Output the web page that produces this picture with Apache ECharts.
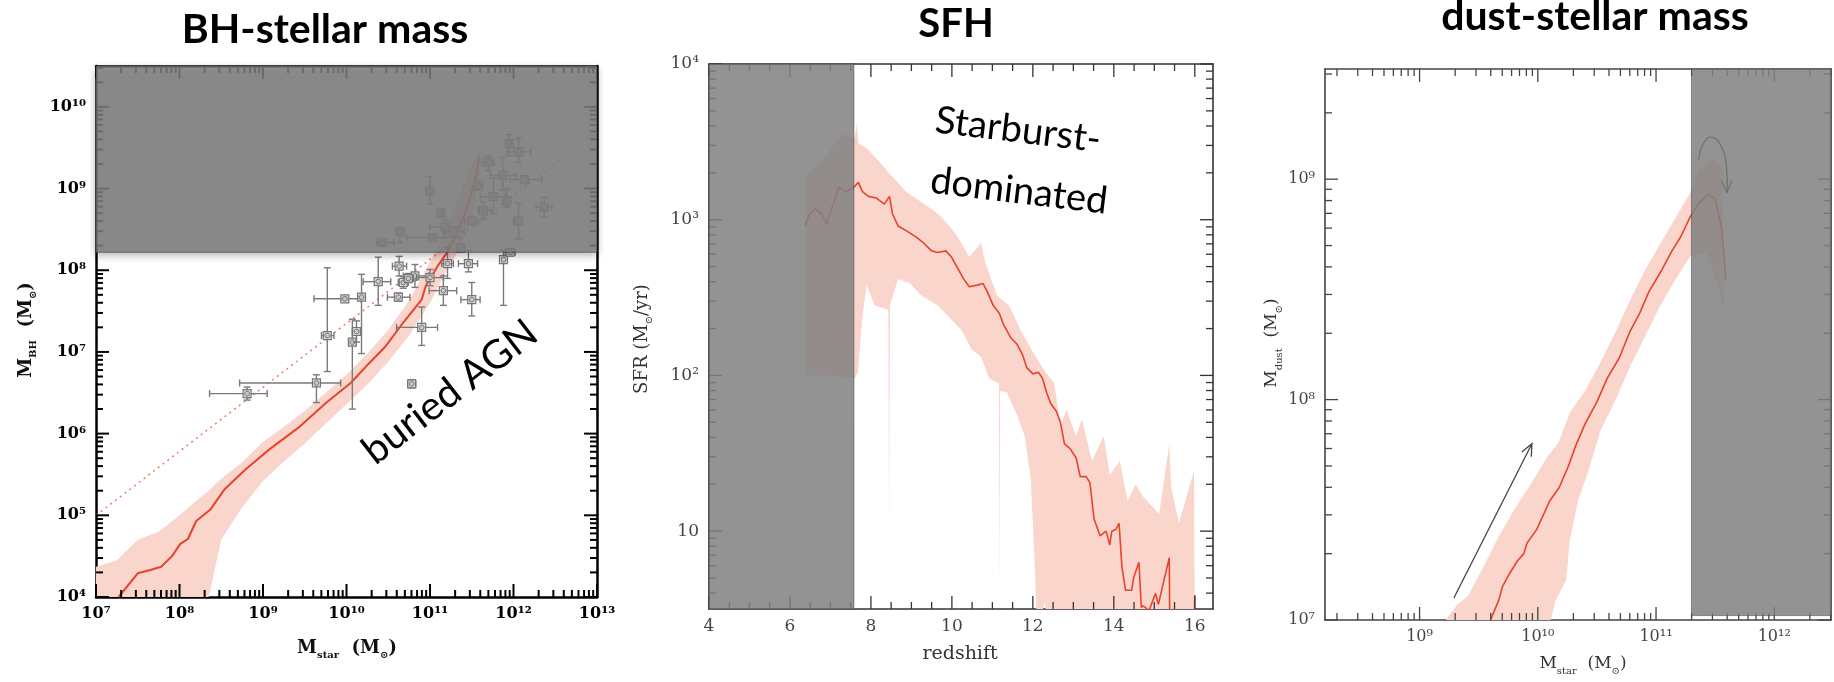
<!DOCTYPE html>
<html>
<head>
<meta charset="utf-8">
<title>BH-stellar mass / SFH / dust-stellar mass</title>
<script src="https://cdn.jsdelivr.net/npm/echarts@6.0.0/dist/echarts.min.js"></script>
<style>
  html, body { margin: 0; padding: 0; background: #fff; }
  #chart { width: 1834px; height: 682px; }
</style>
</head>
<body>
<div id="chart"></div>
<script>
// every value below is a log10 value

// --- panel 1: BH mass vs stellar mass ---
const bhXTicks = [7, 8, 9, 10, 11, 12, 13];
const bhXTickLabels = ['10⁷', '10⁸', '10⁹', '10¹⁰', '10¹¹', '10¹²', '10¹³'];
const bhYTicks = [4, 5, 6, 7, 8, 9, 10];
const bhYTickLabels = ['10⁴', '10⁵', '10⁶', '10⁷', '10⁸', '10⁹', '10¹⁰'];

const bhCurveMstar = [7.27, 7.5, 7.65, 7.78, 7.91, 8.01, 8.1, 8.2, 8.37, 8.54, 8.79, 9.08, 9.42, 9.76, 10.05, 10.26, 10.47, 10.68, 10.9, 10.95, 11.09, 11.2, 11.32, 11.45, 11.54, 11.59];
const bhCurveMbh = [4.0, 4.29, 4.33, 4.37, 4.5, 4.65, 4.71, 4.93, 5.07, 5.32, 5.56, 5.81, 6.07, 6.38, 6.62, 6.85, 7.07, 7.36, 7.64, 7.81, 8.05, 8.21, 8.45, 8.78, 9.1, 9.38];

const bhBandMstar = [7.0, 7.25, 7.5, 7.75, 8.0, 8.25, 8.35, 8.5, 8.75, 9.0, 9.25, 9.5, 9.75, 10.0, 10.25, 10.5, 10.75, 11.0, 11.2, 11.35, 11.5, 11.6];
const bhBandUpper = [4.37, 4.45, 4.70, 4.80, 5.00, 5.22, 5.30, 5.45, 5.65, 5.90, 6.08, 6.28, 6.50, 6.72, 6.98, 7.27, 7.63, 8.10, 8.50, 8.90, 9.30, 9.45];
const bhBandLower = [3.8, 3.8, 3.8, 3.8, 3.8, 3.8, 4.0, 4.7, 5.1, 5.42, 5.66, 5.88, 6.12, 6.36, 6.6, 6.88, 7.2, 7.6, 8.0, 8.25, 8.6, 9.2];

const bhRelMstar = [7.0, 13.0];
const bhRelMbh = [5.0, 9.7];

const bhObsMstar   = [8.81, 9.64, 9.77, 10.07, 10.12, 10.78, 10.90, 9.98, 10.18, 10.38, 10.62, 10.82, 10.68, 10.74, 11.00, 11.16, 11.50, 11.88, 10.63, 11.21, 11.46, 11.00, 11.13, 11.58, 11.70, 11.95, 12.06, 11.87, 12.13, 11.76, 11.92, 11.64, 11.50, 12.06, 12.37, 11.18, 11.03, 10.64, 10.43, 11.28, 11.37, 11.96];
const bhObsMbh     = [6.49, 6.62, 7.20, 7.12, 7.25, 6.61, 7.30, 7.65, 7.67, 7.86, 7.67, 7.93, 7.85, 7.90, 7.91, 7.75, 7.64, 8.13, 8.05, 8.08, 8.08, 8.97, 8.70, 9.03, 9.32, 9.55, 9.45, 9.16, 9.11, 8.90, 8.85, 8.73, 8.60, 8.60, 8.77, 8.53, 8.40, 8.47, 8.34, 8.47, 8.27, 8.22];
const bhObsMstarLo = [8.36, 8.72, 9.70, 10.03, 10.07, 10.74, 10.60, 9.61, 10.14, 10.20, 10.49, 10.68, 10.62, 10.70, 10.84, 10.99, 11.37, 11.86, 10.55, 11.14, 11.34, 10.98, 11.10, 11.55, 11.62, 11.92, 11.92, 11.72, 11.96, 11.60, 11.89, 11.58, 11.41, 12.00, 12.27, 11.00, 10.72, 10.61, 10.36, 11.16, 11.33, 11.90];
const bhObsMstarHi = [9.05, 9.93, 9.85, 10.11, 10.16, 10.83, 11.09, 10.17, 10.22, 10.53, 10.76, 10.98, 10.74, 10.80, 11.16, 11.32, 11.60, 11.90, 10.72, 11.28, 11.57, 11.02, 11.16, 11.61, 11.77, 11.98, 12.21, 12.03, 12.34, 11.90, 11.95, 11.73, 11.58, 12.10, 12.46, 11.37, 11.37, 10.67, 10.57, 11.41, 11.41, 12.02];
const bhObsMbhLo   = [6.41, 6.38, 6.76, 6.30, 7.12, 6.56, 7.08, 7.63, 6.98, 7.57, 7.62, 7.79, 7.78, 7.85, 7.81, 7.57, 7.44, 7.57, 7.93, 7.90, 7.98, 8.81, 8.65, 8.98, 9.22, 9.40, 9.32, 8.98, 9.08, 8.69, 8.77, 8.63, 8.55, 8.38, 8.65, 8.40, 8.38, 8.34, 8.30, 8.43, 8.22, 8.18];
const bhObsMbhHi   = [6.57, 6.72, 8.03, 7.40, 7.38, 6.66, 7.55, 7.67, 7.95, 8.16, 7.72, 8.07, 7.92, 7.96, 8.01, 7.93, 7.85, 8.24, 8.17, 8.28, 8.24, 9.15, 8.75, 9.08, 9.40, 9.66, 9.62, 9.38, 9.14, 9.13, 9.00, 8.84, 8.65, 8.82, 8.89, 8.62, 8.42, 8.51, 8.38, 8.51, 8.32, 8.26];

const bhShade = [7.0, 8.22, 13.0, 10.5]; // x0, y0, x1, y1

// --- panel 2: star formation history ---
const sfhXTicks = [4, 6, 8, 10, 12, 14, 16];
const sfhXTickLabels = ['4', '6', '8', '10', '12', '14', '16'];
const sfhYTicks = [1, 2, 3, 4];
const sfhYTickLabels = ['10', '10²', '10³', '10⁴'];

const sfhZ   = [6.38, 6.47, 6.62, 6.77, 6.91, 7.06, 7.21, 7.35, 7.55, 7.69, 7.79, 7.94, 8.13, 8.33, 8.46, 8.53, 8.67, 8.87, 9.11, 9.26, 9.50, 9.65, 9.85, 9.99, 10.14, 10.29, 10.43, 10.63, 10.77, 10.87, 11.02, 11.17, 11.27, 11.46, 11.61, 11.75, 11.85, 12.0, 12.14, 12.24, 12.34, 12.44, 12.58, 12.68, 12.78, 12.92, 13.07, 13.17, 13.32, 13.41, 13.51, 13.66, 13.81, 13.90, 13.95, 14.05, 14.13, 14.20, 14.29, 14.44, 14.49, 14.62, 14.68, 14.73, 14.87, 15.03, 15.10, 15.37, 15.38, 15.7, 15.99, 16.0];
const sfhSfr = [2.96, 3.03, 3.07, 3.04, 2.97, 3.10, 3.21, 3.18, 3.20, 3.24, 3.18, 3.15, 3.14, 3.10, 3.15, 3.04, 2.96, 2.93, 2.89, 2.86, 2.80, 2.79, 2.80, 2.76, 2.69, 2.62, 2.57, 2.58, 2.59, 2.54, 2.45, 2.40, 2.33, 2.24, 2.20, 2.13, 2.05, 2.01, 2.02, 1.98, 1.89, 1.82, 1.77, 1.70, 1.56, 1.53, 1.47, 1.35, 1.35, 1.31, 1.08, 0.97, 1.00, 0.91, 1.00, 1.01, 1.05, 0.77, 0.62, 0.62, 0.70, 0.80, 0.51, 0.52, 0.49, 0.60, 0.53, 0.83, 0.46, 0.3, 0.3, 0.59];

const sfhBandUpper = [[6.38, 2.96], [6.40, 3.29], [6.7, 3.35], [7.11, 3.49], [7.3, 3.55], [7.6, 3.52], [7.65, 3.62], [7.69, 3.49], [7.89, 3.46], [8.18, 3.38], [8.48, 3.29], [8.87, 3.18], [9.26, 3.11], [9.65, 3.04], [9.94, 2.96], [10.14, 2.89], [10.43, 2.76], [10.72, 2.85], [10.82, 2.73], [11.12, 2.51], [11.41, 2.45], [11.70, 2.29], [12.0, 2.15], [12.29, 2.03], [12.53, 1.95], [12.68, 1.67], [12.83, 1.78], [13.07, 1.61], [13.21, 1.72], [13.46, 1.45], [13.75, 1.61], [13.90, 1.36], [14.15, 1.45], [14.34, 1.19], [14.54, 1.30], [14.73, 1.22], [15.12, 1.11], [15.37, 1.56], [15.42, 1.28], [15.61, 1.05], [15.98, 1.39], [16.0, 0.3]];
const sfhBandLower = [[16.0, 0.3], [12.37, 0.3], [12.3, 0.55], [12.2, 0.45], [12.09, 0.45], [12.05, 0.77], [11.95, 1.33], [11.8, 1.61], [11.6, 1.75], [11.36, 1.89], [11.19, 1.9], [11.18, 0.6], [11.16, 1.95], [10.92, 1.98], [10.72, 2.12], [10.48, 2.17], [10.24, 2.29], [9.94, 2.37], [9.65, 2.45], [9.26, 2.51], [8.97, 2.59], [8.67, 2.62], [8.47, 2.45], [8.45, 1.0], [8.43, 2.42], [8.09, 2.45], [7.89, 2.58], [7.78, 2.35], [7.68, 2.02], [7.6, 1.98], [7.0, 2.0], [6.38, 2.0]];

const sfhShade = [4.0, 0.5, 7.58, 4.0];

// --- panel 3: dust mass vs stellar mass ---
const dustXTicks = [9, 10, 11, 12];
const dustXTickLabels = ['10⁹', '10¹⁰', '10¹¹', '10¹²'];
const dustYTicks = [7, 8, 9];
const dustYTickLabels = ['10⁷', '10⁸', '10⁹'];

const dustCurveMstar = [9.60, 9.67, 9.70, 9.76, 9.83, 9.88, 9.91, 9.99, 10.05, 10.10, 10.18, 10.26, 10.32, 10.40, 10.50, 10.59, 10.69, 10.78, 10.86, 10.94, 11.04, 11.13, 11.21, 11.29, 11.36, 11.44, 11.50, 11.55, 11.58, 11.59];
const dustCurveMdust = [7.0, 7.09, 7.15, 7.21, 7.27, 7.30, 7.35, 7.41, 7.48, 7.54, 7.60, 7.70, 7.79, 7.89, 7.99, 8.10, 8.19, 8.31, 8.39, 8.49, 8.58, 8.67, 8.74, 8.83, 8.89, 8.93, 8.91, 8.79, 8.63, 8.54];

const dustBandUpper = [[9.22, 7.0], [9.32, 7.07], [9.41, 7.11], [9.54, 7.24], [9.67, 7.38], [9.80, 7.50], [9.92, 7.60], [10.08, 7.74], [10.18, 7.81], [10.27, 7.94], [10.40, 8.04], [10.53, 8.17], [10.66, 8.31], [10.78, 8.45], [10.91, 8.59], [11.04, 8.71], [11.17, 8.83], [11.29, 8.94], [11.36, 9.04], [11.48, 9.09], [11.56, 9.06]];
const dustBandLower = [[11.60, 7.65], [11.58, 8.4], [11.52, 8.53], [11.42, 8.67], [11.29, 8.65], [11.17, 8.55], [11.04, 8.43], [10.91, 8.29], [10.78, 8.15], [10.66, 8.0], [10.53, 7.86], [10.43, 7.68], [10.34, 7.54], [10.27, 7.36], [10.24, 7.18], [10.21, 7.15], [10.15, 7.09], [10.11, 7.0]];

const dustArrowMstar = [9.29, 9.95];
const dustArrowMdust = [7.10, 7.80];
const dustLoopMstar = [11.36, 11.41, 11.48, 11.55, 11.595, 11.60];
const dustLoopMdust = [9.09, 9.17, 9.19, 9.15, 9.06, 8.94];

const dustShade = [11.3, 7.02, 12.48, 9.5];

// ---------------------------------------------------------------

const RED = '#e8432d';
const BAND = '#f9d5cb';
const SHADE = 'rgba(128,128,128,0.85)';
const SERIF = 'DejaVu Serif';

const pairs = (xs, ys) => xs.map((x, i) => [x, ys[i]]);

function tickLabel(ticks, labels) {
  return v => {
    const i = ticks.findIndex(t => Math.abs(t - v) < 1e-6);
    return i < 0 ? '' : labels[i];
  };
}

function minorLog(lo, hi) {
  const out = [];
  for (let d = Math.floor(lo); d < hi; d++) {
    for (let k = 2; k <= 9; k++) {
      const v = d + Math.log10(k);
      if (v > lo && v < hi) out.push(v);
    }
  }
  return out;
}

function xAxes(gi, min, max, interval, ticks, labels, frame) {
  const base = {
    type: 'value', gridIndex: gi, min, max, interval,
    axisLine: { show: true, onZero: false, lineStyle: { color: frame.color, width: frame.width } },
    axisTick: { show: false },
    splitLine: { show: false }
  };
  return [
    Object.assign({}, base, {
      position: 'bottom',
      axisLabel: { show: true, margin: 9, formatter: tickLabel(ticks, labels), color: frame.label, fontFamily: SERIF, fontSize: frame.fontSize, fontWeight: frame.weight }
    }),
    Object.assign({}, base, { position: 'top', axisLabel: { show: false } })
  ];
}

function yAxes(gi, min, max, interval, ticks, labels, frame) {
  const base = {
    type: 'value', gridIndex: gi, min, max, interval,
    axisLine: { show: true, onZero: false, lineStyle: { color: frame.color, width: frame.width } },
    axisTick: { show: false },
    splitLine: { show: false }
  };
  return [
    Object.assign({}, base, {
      position: 'left',
      axisLabel: { show: true, margin: 10, formatter: tickLabel(ticks, labels), color: frame.label, fontFamily: SERIF, fontSize: frame.fontSize, fontWeight: frame.weight }
    }),
    Object.assign({}, base, { position: 'right', axisLabel: { show: false } })
  ];
}

// inward ticks on all four sides of a frame
function tickSeries(gi, xMin, yMin, xMajor, xMinor, yMajor, yMinor, frame) {
  const data = []
    .concat(xMajor.map(v => [v, yMin, 0, 1]))
    .concat(xMinor.map(v => [v, yMin, 0, 0]))
    .concat(yMajor.map(v => [xMin, v, 1, 1]))
    .concat(yMinor.map(v => [xMin, v, 1, 0]));
  return {
    type: 'custom', xAxisIndex: 2 * gi, yAxisIndex: 2 * gi, silent: true, z: 5,
    data,
    renderItem(params, api) {
      const cs = params.coordSys;
      const len = api.value(3) ? 13 : 7;
      const st = { stroke: frame.color, lineWidth: frame.tick };
      const p = api.coord([api.value(0), api.value(1)]);
      if (!api.value(2)) {
        const x = p[0], y0 = cs.y, y1 = cs.y + cs.height;
        return { type: 'group', children: [
          { type: 'line', shape: { x1: x, y1: y1, x2: x, y2: y1 - len }, style: st },
          { type: 'line', shape: { x1: x, y1: y0, x2: x, y2: y0 + len }, style: st }
        ] };
      }
      const y = p[1], x0 = cs.x, x1 = cs.x + cs.width;
      return { type: 'group', children: [
        { type: 'line', shape: { x1: x0, y1: y, x2: x0 + len, y2: y }, style: st },
        { type: 'line', shape: { x1: x1, y1: y, x2: x1 - len, y2: y }, style: st }
      ] };
    }
  };
}

function bandSeries(gi, upper, lower) {
  const pts = upper.concat(lower);
  return {
    type: 'custom', xAxisIndex: 2 * gi, yAxisIndex: 2 * gi, silent: true, z: 1, clip: true,
    data: [pts[0]],
    renderItem(params, api) {
      return { type: 'polygon', shape: { points: pts.map(p => api.coord(p)) }, style: { fill: BAND } };
    }
  };
}

function lineSeries(gi, data, color, width, type, z) {
  return {
    type: 'line', xAxisIndex: 2 * gi, yAxisIndex: 2 * gi, data, silent: true, z,
    showSymbol: false, symbol: 'none', clip: true, animation: false,
    lineStyle: { color, width, type }
  };
}

function shadeSeries(gi, box, shadow) {
  return {
    type: 'custom', xAxisIndex: 2 * gi, yAxisIndex: 2 * gi, silent: true, z: 8,
    data: [box],
    renderItem(params, api) {
      const a = api.coord([api.value(0), api.value(3)]);
      const b = api.coord([api.value(2), api.value(1)]);
      return {
        type: 'rect',
        shape: { x: a[0], y: a[1], width: b[0] - a[0], height: b[1] - a[1] },
        style: shadow
          ? { fill: SHADE, stroke: 'rgba(60,60,60,0.6)', lineWidth: 1, shadowBlur: 8, shadowColor: 'rgba(0,0,0,0.35)', shadowOffsetY: 3 }
          : { fill: SHADE, stroke: 'rgba(60,60,60,0.5)', lineWidth: 1 }
      };
    }
  };
}

function arrowSeries(gi, xs, ys, color, width, smooth) {
  const pts = pairs(xs, ys);
  return {
    type: 'custom', xAxisIndex: 2 * gi, yAxisIndex: 2 * gi, silent: true, z: 6,
    data: [pts[0]],
    renderItem(params, api) {
      const px = pts.map(p => api.coord(p));
      const a = px[px.length - 2], b = px[px.length - 1];
      const ang = Math.atan2(b[1] - a[1], b[0] - a[0]);
      const h = 13, s = 0.42;
      const head = [
        [b[0] - h * Math.cos(ang - s), b[1] - h * Math.sin(ang - s)],
        b,
        [b[0] - h * Math.cos(ang + s), b[1] - h * Math.sin(ang + s)]
      ];
      const st = { stroke: color, lineWidth: width, fill: null };
      return { type: 'group', children: [
        { type: 'polyline', shape: { points: px, smooth: smooth }, style: st },
        { type: 'polyline', shape: { points: head }, style: st }
      ] };
    }
  };
}

const bhObs = bhObsMstar.map((x, i) => [x, bhObsMbh[i], bhObsMstarLo[i], bhObsMstarHi[i], bhObsMbhLo[i], bhObsMbhHi[i]]);

const obsSeries = {
  type: 'custom', xAxisIndex: 0, yAxisIndex: 0, silent: true, z: 4, clip: true,
  data: bhObs,
  encode: { x: 0, y: 1 },
  renderItem(params, api) {
    const x = api.value(0), y = api.value(1);
    const c = api.coord([x, y]);
    const l = api.coord([api.value(2), y]), r = api.coord([api.value(3), y]);
    const b = api.coord([x, api.value(4)]), t = api.coord([x, api.value(5)]);
    const st = { stroke: '#7a7a7a', lineWidth: 1.4 };
    const cap = 3.5;
    const seg = (x1, y1, x2, y2) => ({ type: 'line', shape: { x1, y1, x2, y2 }, style: st });
    return { type: 'group', children: [
      seg(l[0], l[1], r[0], r[1]),
      seg(b[0], b[1], t[0], t[1]),
      seg(l[0], l[1] - cap, l[0], l[1] + cap),
      seg(r[0], r[1] - cap, r[0], r[1] + cap),
      seg(b[0] - cap, b[1], b[0] + cap, b[1]),
      seg(t[0] - cap, t[1], t[0] + cap, t[1]),
      { type: 'rect', shape: { x: c[0] - 4, y: c[1] - 4, width: 8, height: 8 }, style: { fill: 'rgba(215,215,215,0.8)', stroke: '#777', lineWidth: 1.2 } },
      { type: 'circle', shape: { cx: c[0], cy: c[1], r: 2.4 }, style: { fill: 'none', stroke: '#777', lineWidth: 1 } }
    ] };
  }
};

const frame1 = { color: '#000', width: 2.5, tick: 2, label: '#000', fontSize: 16, weight: 'bold' };
const frame2 = { color: '#333', width: 1.6, tick: 1.3, label: '#444', fontSize: 17, weight: 'normal' };
const frame3 = { color: '#444', width: 1.6, tick: 1.3, label: '#444', fontSize: 16, weight: 'normal' };

const subRich = (weight, color) => ({
  s: { fontSize: 10, fontFamily: SERIF, fontWeight: weight, color, verticalAlign: 'bottom', lineHeight: 12 }
});

function axisTitle(x, y, text, weight, color, size, rot) {
  return {
    type: 'text', x, y, rotation: rot ? Math.PI / 2 : 0, z: 100,
    style: {
      text, textAlign: 'center', textVerticalAlign: 'middle',
      fontFamily: SERIF, fontSize: size, fontWeight: weight, fill: color, lineHeight: 24,
      rich: subRich(weight, color)
    }
  };
}

function label(x, y, text, size, weight, rotation) {
  return {
    type: 'text', x, y, rotation: rotation || 0, z: 100,
    style: { text, textAlign: 'center', textVerticalAlign: 'middle', fontFamily: 'Lato', fontSize: size, fontWeight: weight, fill: '#000' }
  };
}

const chart = echarts.init(document.getElementById('chart'), null, { renderer: 'canvas' });

const option = {
  animation: false,
  grid: [
    { left: 96, top: 66, width: 501, height: 531, containLabel: false },
    { left: 709, top: 64, width: 504, height: 545, containLabel: false },
    // frame runs off the right edge of the picture
    { left: 1325, top: 69, width: 509, height: 551, containLabel: false }
  ],
  xAxis: []
    .concat(xAxes(0, 7, 13, 1, bhXTicks, bhXTickLabels, frame1))
    .concat(xAxes(1, 4, 16.45, 2, sfhXTicks, sfhXTickLabels, frame2))
    .concat(xAxes(2, 8.2, 12.48, 0.2, dustXTicks, dustXTickLabels, frame3)),
  yAxis: []
    .concat(yAxes(0, 4, 10.5, 1, bhYTicks, bhYTickLabels, frame1))
    .concat(yAxes(1, 0.5, 4, 0.5, sfhYTicks, sfhYTickLabels, frame2))
    .concat(yAxes(2, 7, 9.5, 1, dustYTicks, dustYTickLabels, frame3)),
  series: [
    // panel 1
    bandSeries(0, pairs(bhBandMstar, bhBandUpper), pairs(bhBandMstar, bhBandLower).reverse()),
    lineSeries(0, pairs(bhRelMstar, bhRelMbh), '#ef7a6a', 1.5, [2, 4], 2),
    lineSeries(0, pairs(bhCurveMstar, bhCurveMbh), RED, 2, 'solid', 3),
    obsSeries,
    tickSeries(0, 7, 4, bhXTicks, minorLog(7, 13), bhYTicks, minorLog(4, 10.5), frame1),
    shadeSeries(0, bhShade, true),
    // panel 2
    bandSeries(1, sfhBandUpper, sfhBandLower),
    lineSeries(1, pairs(sfhZ, sfhSfr), RED, 1.6, 'solid', 3),
    tickSeries(1, 4, 0.5, sfhXTicks, [4.5, 5, 5.5, 6.5, 7, 7.5, 8.5, 9, 9.5, 10.5, 11, 11.5, 12.5, 13, 13.5, 14.5, 15, 15.5], sfhYTicks, minorLog(0.5, 4), frame2),
    shadeSeries(1, sfhShade, false),
    // panel 3
    bandSeries(2, dustBandUpper, dustBandLower),
    lineSeries(2, pairs(dustCurveMstar, dustCurveMdust), RED, 1.6, 'solid', 3),
    arrowSeries(2, dustArrowMstar, dustArrowMdust, '#444', 1.3, 0),
    arrowSeries(2, dustLoopMstar, dustLoopMdust, '#222', 1.3, 0.5),
    tickSeries(2, 8.2, 7, dustXTicks, minorLog(8.2, 12.48), dustYTicks, minorLog(7, 9.5), frame3),
    shadeSeries(2, dustShade, false)
  ],
  graphic: [
    label(325, 30, 'BH-stellar mass', 41, 'bold'),
    label(956, 24, 'SFH', 40, 'bold'),
    label(1595, 17, 'dust-stellar mass', 41, 'bold'),
    label(450, 392, 'buried AGN', 40, 'normal', 0.656),
    label(1018, 130, 'Starburst-', 38, 'normal', -0.12),
    label(1019, 191, 'dominated', 38, 'normal', -0.12),
    axisTitle(26, 330, 'M{s|BH}  (M{s|⊙})', 'bold', '#111', 18, true),
    axisTitle(347, 648, 'M{s|star}  (M{s|⊙})', 'bold', '#111', 18, false),
    axisTitle(642, 339, 'SFR (M{s|⊙}/yr)', 'normal', '#333', 18, true),
    axisTitle(960, 654, 'redshift', 'normal', '#333', 19, false),
    axisTitle(1272, 343, 'M{s|dust}  (M{s|⊙})', 'normal', '#333', 17, true),
    axisTitle(1583, 664, 'M{s|star}  (M{s|⊙})', 'normal', '#333', 17, false)
  ]
};

chart.setOption(option);
window.addEventListener('resize', () => chart.resize());
</script>
</body>
</html>
